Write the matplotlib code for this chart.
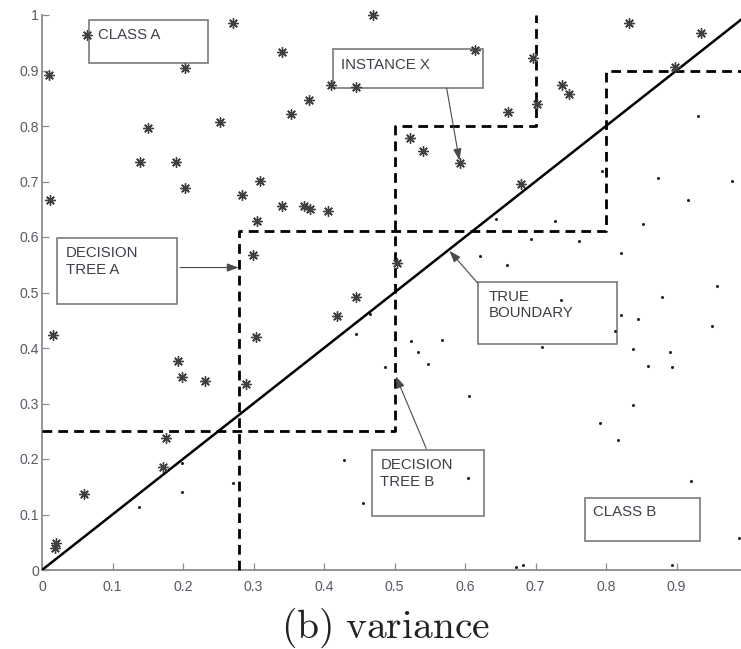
#!/usr/bin/env python
"""Variance panel: two classes, the true boundary and two decision-tree boundaries."""

import matplotlib
matplotlib.use("Agg")
import matplotlib.pyplot as plt
from matplotlib.patches import Rectangle


# class A samples (drawn as asterisks)
CLASS_A_X = [0.064, 0.010, 0.012, 0.271, 0.203, 0.341, 0.151, 0.139, 0.190, 0.203,
             0.252, 0.284, 0.309, 0.305, 0.341, 0.371, 0.380, 0.406, 0.353, 0.379,
             0.410, 0.445, 0.299, 0.445, 0.469, 0.614, 0.697, 0.832, 0.935, 0.737,
             0.748, 0.702, 0.661, 0.522, 0.541, 0.593, 0.680, 0.898, 0.503, 0.015,
             0.193, 0.199, 0.231, 0.290, 0.304, 0.419, 0.176, 0.172, 0.059, 0.020,
             0.018]
CLASS_A_Y = [0.964, 0.892, 0.667, 0.985, 0.904, 0.933, 0.796, 0.736, 0.735, 0.689,
             0.808, 0.676, 0.701, 0.628, 0.656, 0.656, 0.650, 0.647, 0.821, 0.847,
             0.873, 0.871, 0.568, 0.492, 1.000, 0.937, 0.922, 0.986, 0.967, 0.874,
             0.857, 0.840, 0.825, 0.779, 0.755, 0.733, 0.695, 0.907, 0.554, 0.423,
             0.377, 0.347, 0.341, 0.336, 0.420, 0.458, 0.238, 0.186, 0.137, 0.049,
             0.039]

# class B samples (drawn as dots)
CLASS_B_X = [0.795, 0.931, 0.874, 0.979, 0.916, 0.853, 0.727, 0.644, 0.694, 0.762,
             0.821, 0.621, 0.660, 0.957, 0.880, 0.736, 0.821, 0.846, 0.813, 0.950,
             0.709, 0.838, 0.891, 0.859, 0.893, 0.524, 0.568, 0.534, 0.547, 0.486,
             0.606, 0.838, 0.791, 0.817, 0.604, 0.921, 0.988, 0.672, 0.682, 0.893,
             0.445, 0.429, 0.456, 0.199, 0.137, 0.271, 0.198, 0.465]
CLASS_B_Y = [0.719, 0.818, 0.706, 0.701, 0.667, 0.623, 0.629, 0.632, 0.596, 0.593,
             0.571, 0.566, 0.550, 0.512, 0.491, 0.486, 0.459, 0.452, 0.431, 0.440,
             0.401, 0.398, 0.393, 0.368, 0.366, 0.413, 0.414, 0.392, 0.372, 0.366,
             0.314, 0.297, 0.264, 0.234, 0.166, 0.160, 0.058, 0.006, 0.009, 0.009,
             0.426, 0.199, 0.120, 0.140, 0.114, 0.156, 0.193, 0.461]

TRUE_X = [0.0, 1.0]
TRUE_Y = [0.0, 1.0]

TREE_A_X = [0.28, 0.28, 0.80, 0.80, 1.00]
TREE_A_Y = [0.00, 0.61, 0.61, 0.90, 0.90]
TREE_B_X = [0.00, 0.50, 0.50, 0.70, 0.70]
TREE_B_Y = [0.25, 0.25, 0.80, 0.80, 1.00]

TICKS = [0, 0.1, 0.2, 0.3, 0.4, 0.5, 0.6, 0.7, 0.8, 0.9, 1]
Y_TICK_LABELS = ["0", "0.1", "0.2", "0.3", "0.4", "0.5", "0.6", "0.7", "0.8", "0.9", "1"]
# the "1" on the x axis falls outside the picture, as in the source
X_TICK_LABELS = ["0", "0.1", "0.2", "0.3", "0.4", "0.5", "0.6", "0.7", "0.8", "0.9", ""]

# label boxes: (text, box x0, y0, x1, y1, text x, text centre y)
BOXES = [
    ("CLASS A", 0.067, 0.913, 0.236, 0.991, 0.079, 0.964),
    ("INSTANCE X", 0.413, 0.869, 0.625, 0.938, 0.424, 0.910),
    ("DECISION\nTREE A", 0.021, 0.479, 0.192, 0.598, 0.034, 0.5555),
    ("TRUE\nBOUNDARY", 0.619, 0.407, 0.815, 0.519, 0.633, 0.4775),
    ("DECISION\nTREE B", 0.468, 0.097, 0.627, 0.217, 0.480, 0.1745),
    ("CLASS B", 0.770, 0.052, 0.933, 0.129, 0.781, 0.104),
]
# arrows: (tail, head)
ARROWS = [
    ((0.574, 0.868), (0.592, 0.738)),
    ((0.196, 0.545), (0.279, 0.545)),
    ((0.618, 0.517), (0.578, 0.575)),
    ((0.545, 0.219), (0.502, 0.349)),
]


def main():
    plt.rcParams["mathtext.fontset"] = "cm"
    fig = plt.figure(figsize=(7.41, 6.49), dpi=100, facecolor="white")
    ax = fig.add_axes([42 / 741, 79 / 649, 705 / 741, 555 / 649])
    ax.set_xlim(0, 1)
    ax.set_ylim(0, 1)

    ax.plot(TREE_A_X, TREE_A_Y, color="black", lw=2, dashes=(3.5, 2.2), clip_on=False, zorder=3)
    ax.plot(TREE_B_X, TREE_B_Y, color="black", lw=2, dashes=(3.5, 2.2), clip_on=False, zorder=3)
    ax.plot(TRUE_X, TRUE_Y, color="black", lw=1.8, solid_capstyle="butt", zorder=4)

    ax.plot(CLASS_A_X, CLASS_A_Y, ls="none", marker=(8, 2, 0), ms=7.5, mew=1.0,
            color="#404040", clip_on=False, zorder=5)
    ax.plot(CLASS_B_X, CLASS_B_Y, ls="none", marker="o", ms=2.2, mew=0,
            color="#222222", clip_on=False, zorder=5)

    for text, x0, y0, x1, y1, tx, ty in BOXES:
        ax.add_patch(Rectangle((x0, y0), x1 - x0, y1 - y0, facecolor="none",
                               edgecolor="#7a7a7a", lw=1.2, zorder=2))
        ax.text(tx, ty, text, fontsize=10.8, family="Liberation Sans", color="#3c4048",
                ha="left", va="center", linespacing=1.25)

    for tail, head in ARROWS:
        ax.annotate("", xy=head, xytext=tail,
                    arrowprops=dict(arrowstyle="-|>,head_length=0.7,head_width=0.25",
                                    color="#4a4a4a", lw=0.8, shrinkA=0, shrinkB=0),
                    zorder=6)

    for side in ("top", "right"):
        ax.spines[side].set_visible(False)
    for side in ("left", "bottom"):
        ax.spines[side].set_color("#8c8c8c")
        ax.spines[side].set_linewidth(1.3)
    ax.set_xticks(TICKS)
    ax.set_xticklabels(X_TICK_LABELS)
    ax.set_yticks(TICKS)
    ax.set_yticklabels(Y_TICK_LABELS)
    ax.tick_params(direction="in", length=5, width=0.9, color="#8c8c8c",
                   labelcolor="#555a64", labelsize=10.2)
    ax.tick_params(axis="x", pad=7)
    ax.tick_params(axis="y", pad=2)
    for lab in ax.get_xticklabels() + ax.get_yticklabels():
        lab.set_family("Liberation Sans")

    fig.text(386 / 741, 1 - 628 / 649, r"$\mathrm{(b)\ variance}$", fontsize=28.5,
             ha="center", va="center", color="#222222")

    fig.savefig("out.png", dpi=100, facecolor="white")
    plt.close(fig)


if __name__ == "__main__":
    main()
